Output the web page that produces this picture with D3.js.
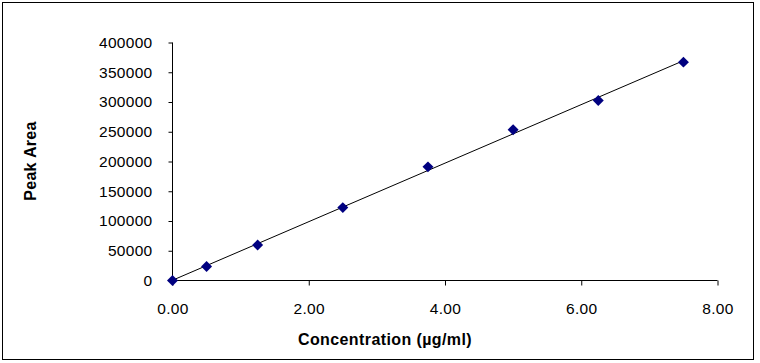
<!DOCTYPE html>
<html>
<head>
<meta charset="utf-8">
<script src="https://cdn.jsdelivr.net/npm/d3@7"></script>
<style>
  body { margin: 0; background: #fff; }
  svg text { font-family: "Liberation Sans", Arial, sans-serif; fill: #000; }
</style>
</head>
<body>
<div id="chart"></div>
<script>
// calibration data
var concentration = [0, 0.5, 1.25, 2.5, 3.75, 5.0, 6.25, 7.5];
var peakArea = [0, 23500, 59500, 122500, 191000, 253500, 302500, 367000];
var xTicks = [0, 2, 4, 6, 8];
var yTicks = [0, 50000, 100000, 150000, 200000, 250000, 300000, 350000, 400000];

var width = 760, height = 363;

var svg = d3.select("#chart").append("svg")
	.attr("width", width)
	.attr("height", height);

// outer frame
svg.append("rect")
	.attr("x", 2.5).attr("y", 2.5)
	.attr("width", 751).attr("height", 357)
	.attr("fill", "#fff")
	.attr("stroke", "#000")
	.attr("stroke-width", 1);

var xScale = d3.scaleLinear().domain([0, 8]).range([172.5, 717.5]);
var yScale = d3.scaleLinear().domain([0, 400000]).range([280.5, 42.5]);

// y axis
var yAxis = d3.axisLeft(yScale)
	.tickValues(yTicks)
	.tickSize(4)
	.tickPadding(16)
	.tickFormat(d3.format("d"));

var yg = svg.append("g")
	.attr("transform", "translate(" + xScale(0) + ",0)")
	.call(yAxis);

// x axis
var xAxis = d3.axisBottom(xScale)
	.tickValues(xTicks)
	.tickSize(5)
	.tickPadding(17)
	.tickFormat(d3.format(".2f"));

var xg = svg.append("g")
	.attr("transform", "translate(0," + yScale(0) + ")")
	.call(xAxis);

[yg, xg].forEach(function(g) {
	g.select(".domain").attr("stroke", "#000").attr("d", g === yg
		? "M0," + yScale(400000) + "V" + yScale(0)
		: "M" + xScale(0) + ",0H" + xScale(8));
	g.selectAll(".tick line").attr("stroke", "#000");
	g.selectAll("text")
		.style("font-family", "'Liberation Sans', Arial, sans-serif")
		.style("font-size", "15.5px")
		.style("letter-spacing", "0.3px")
		.attr("fill", "#000");
});

// linear trendline (least squares through the points, like the spreadsheet)
var meanX = d3.mean(concentration), meanY = d3.mean(peakArea);
var sxy = 0, sxx = 0;
for (var i = 0; i < concentration.length; i++) {
	sxy += (concentration[i] - meanX) * (peakArea[i] - meanY);
	sxx += (concentration[i] - meanX) * (concentration[i] - meanX);
}
var slope = sxy / sxx;
var intercept = meanY - slope * meanX;
var xMin = d3.min(concentration), xMax = d3.max(concentration);

svg.append("line")
	.attr("x1", xScale(xMin)).attr("y1", yScale(intercept + slope * xMin))
	.attr("x2", xScale(xMax)).attr("y2", yScale(intercept + slope * xMax))
	.attr("stroke", "#000")
	.attr("stroke-width", 1);

// diamond markers
var data = d3.zip(concentration, peakArea);
svg.selectAll(".pt")
	.data(data)
	.enter()
	.append("path")
	.attr("class", "pt")
	.attr("d", d3.symbol().type(d3.symbolSquare).size(60))
	.attr("transform", function(d) {
		return "translate(" + xScale(d[0]) + "," + yScale(d[1]) + ") rotate(45)";
	})
	.attr("fill", "#000080");

// axis titles
svg.append("text")
	.attr("x", 385)
	.attr("y", 345)
	.attr("text-anchor", "middle")
	.style("font-size", "16px")
	.style("font-weight", "bold")
	.style("letter-spacing", "0.4px")
	.text("Concentration (\u00b5g/ml)");

svg.append("text")
	.attr("transform", "translate(36,161) rotate(-90)")
	.attr("text-anchor", "middle")
	.style("font-size", "16px")
	.style("font-weight", "bold")
	.style("letter-spacing", "0.3px")
	.text("Peak Area");
</script>
</body>
</html>
